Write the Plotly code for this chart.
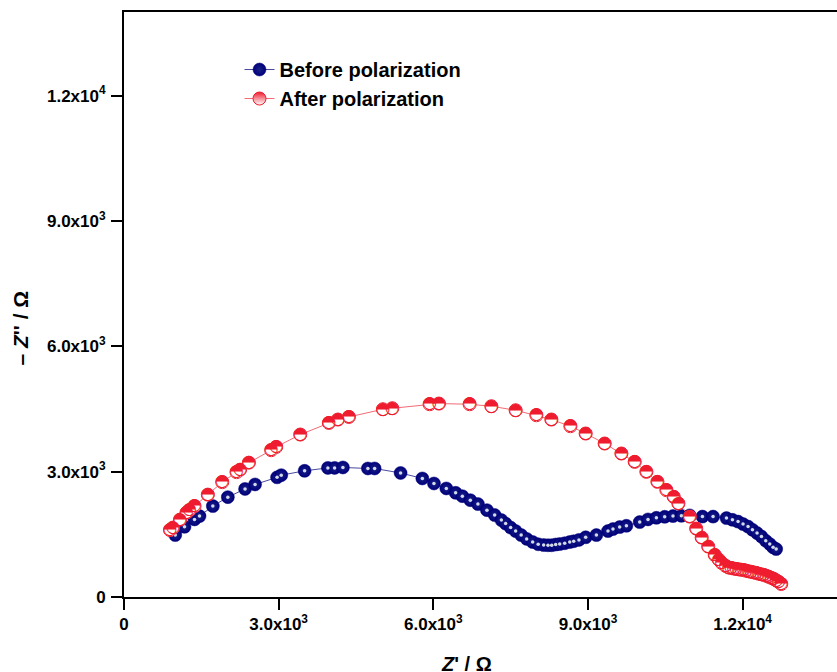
import plotly.graph_objects as go

# Nyquist data, Z' (ohm) and -Z'' (ohm)
before_zre = [994, 1174, 1368, 1465, 1723, 2014, 2348, 2542, 2969, 3050, 3503, 3955, 4085, 4246,
              4731, 4861, 5365, 5787, 6012, 6252, 6433, 6563, 6718, 6865, 7040, 7190, 7320, 7403,
              7500, 7597, 7704, 7811, 7927, 8034, 8140, 8224, 8296, 8373, 8451, 8548, 8645, 8723,
              8825, 8955, 9163, 9388, 9485, 9615, 9745, 10003, 10164, 10327, 10488, 10649, 10812,
              10973, 11220, 11426, 11686, 11802, 11911, 12008, 12105, 12190, 12279, 12365, 12448,
              12526, 12590, 12650]
before_zim = [1482, 1680, 1857, 1936, 2175, 2390, 2586, 2694, 2863, 2916, 3019, 3090, 3090, 3100,
              3076, 3076, 2968, 2837, 2717, 2598, 2493, 2414, 2318, 2223, 2079, 1960, 1840, 1757,
              1661, 1577, 1482, 1391, 1315, 1262, 1243, 1238, 1238, 1255, 1267, 1286, 1315, 1334,
              1367, 1429, 1482, 1577, 1625, 1673, 1704, 1793, 1857, 1895, 1919, 1936, 1943,
              1953, 1924, 1924, 1888, 1847, 1804, 1745, 1685, 1608, 1530, 1446, 1346,
              1267, 1188, 1147]

after_zre = [893, 951, 1087, 1213, 1271, 1368, 1626, 1906, 2183, 2251, 2422, 2856, 2953, 3419,
             3974, 4149, 4362, 5022, 5204, 5928, 6109, 6704, 7126, 7597, 7999, 8290, 8659, 8955,
             9324, 9648, 9906, 10133, 10347, 10521, 10663, 10754, 10974, 11100, 11206, 11333,
             11459, 11536, 11595, 11672, 11730, 11779, 11827, 11876, 11924, 11973, 12021, 12070,
             12118, 12167, 12216, 12264, 12312, 12361, 12410, 12458, 12507, 12555, 12604, 12652,
             12700, 12749]
after_zim = [1601, 1661, 1852, 2020, 2079, 2175, 2450, 2749, 2988, 3047, 3215, 3513, 3592, 3888,
             4166, 4247, 4309, 4493, 4517, 4613, 4629, 4613, 4565, 4469, 4350, 4247, 4087, 3912,
             3673, 3434, 3234, 2995, 2756, 2557, 2397, 2239, 1924, 1637, 1422, 1207,
             1004, 896, 813, 741, 705, 693, 681, 669, 662, 652, 641, 629,
             614, 602, 588, 574, 557, 543, 526, 507, 483, 459, 430, 399,
             359, 311]

tick_vals_x = [0, 3000, 6000, 9000, 12000]
tick_text_x = ["0", "3.0x10<sup>3</sup>", "6.0x10<sup>3</sup>", "9.0x10<sup>3</sup>", "1.2x10<sup>4</sup>"]
tick_vals_y = [0, 3000, 6000, 9000, 12000]
tick_text_y = ["0", "3.0x10<sup>3</sup>", "6.0x10<sup>3</sup>", "9.0x10<sup>3</sup>", "1.2x10<sup>4</sup>"]

NAVY = "#00007a"
RED = "#ee1c2e"
FONT = "Liberation Sans"

fig = go.Figure()

# Before polarization: navy glossy balls
fig.add_trace(go.Scatter(
    x=before_zre, y=before_zim, mode="lines+markers", name="Before polarization",
    line=dict(color="#4a4a9e", width=1),
    marker=dict(symbol="circle", size=13, color=NAVY,
                gradient=dict(type="radial", color="#1a2286"),
                line=dict(color=NAVY, width=0.5)),
))
fig.add_trace(go.Scatter(
    x=before_zre, y=before_zim, mode="markers", showlegend=False, hoverinfo="skip",
    marker=dict(symbol="circle", size=3.5, color="#d2daea", line=dict(width=0)),
))

# After polarization: half-filled red circles
fig.add_trace(go.Scatter(
    x=after_zre, y=after_zim, mode="lines+markers", name="After polarization",
    line=dict(color="#f26a76", width=1),
    marker=dict(symbol="circle", size=13, color=RED,
                gradient=dict(type="vertical", color="white"),
                line=dict(color=RED, width=1)),
))
fig.add_trace(go.Scatter(
    x=after_zre, y=after_zim, mode="markers", showlegend=False, hoverinfo="skip",
    marker=dict(symbol="circle", size=12, color="white", line=dict(width=0)),
))
fig.add_trace(go.Scatter(
    x=after_zre, y=after_zim, mode="text", text=["\u25d3"] * len(after_zre),
    textposition="middle center", showlegend=False, hoverinfo="skip",
    textfont=dict(family="DejaVu Sans", size=17, color=RED),
))

axis_common = dict(
    showgrid=False, zeroline=False, showline=True, linecolor="black", linewidth=2,
    ticks="outside", ticklen=11, tickwidth=2, tickcolor="black",
    tickfont=dict(family=FONT, size=17, color="black", weight="bold"),
)

fig.update_layout(
    width=837, height=672,
    margin=dict(l=124, r=0, t=12, b=75),
    paper_bgcolor="white", plot_bgcolor="white",
    xaxis=dict(range=[0, 13830], tickvals=tick_vals_x, ticktext=tick_text_x,
               mirror=True, **axis_common),
    yaxis=dict(range=[0, 14000], tickvals=tick_vals_y, ticktext=tick_text_y,
               mirror=False, ticklabelstandoff=2, **axis_common),
    legend=dict(x=0.162, y=0.935, xanchor="left", yanchor="top",
                bgcolor="rgba(0,0,0,0)", borderwidth=0, tracegroupgap=0,
                font=dict(family=FONT, size=20, color="black", weight="bold")),
    showlegend=True,
    annotations=[
        dict(text="\u2013 <i>Z</i>'' / \u03a9", xref="paper", yref="paper",
             x=-0.145, y=0.46, textangle=-90, showarrow=False,
             xanchor="center", yanchor="middle",
             font=dict(family=FONT, size=21, color="black", weight="bold")),
        dict(text="<i>Z</i>' / \u03a9", xref="paper", yref="paper",
             x=0.48, y=-0.092, showarrow=False, xanchor="center", yanchor="top",
             font=dict(family=FONT, size=20, color="black", weight="bold")),
    ],
)

fig.write_html("out.html")
